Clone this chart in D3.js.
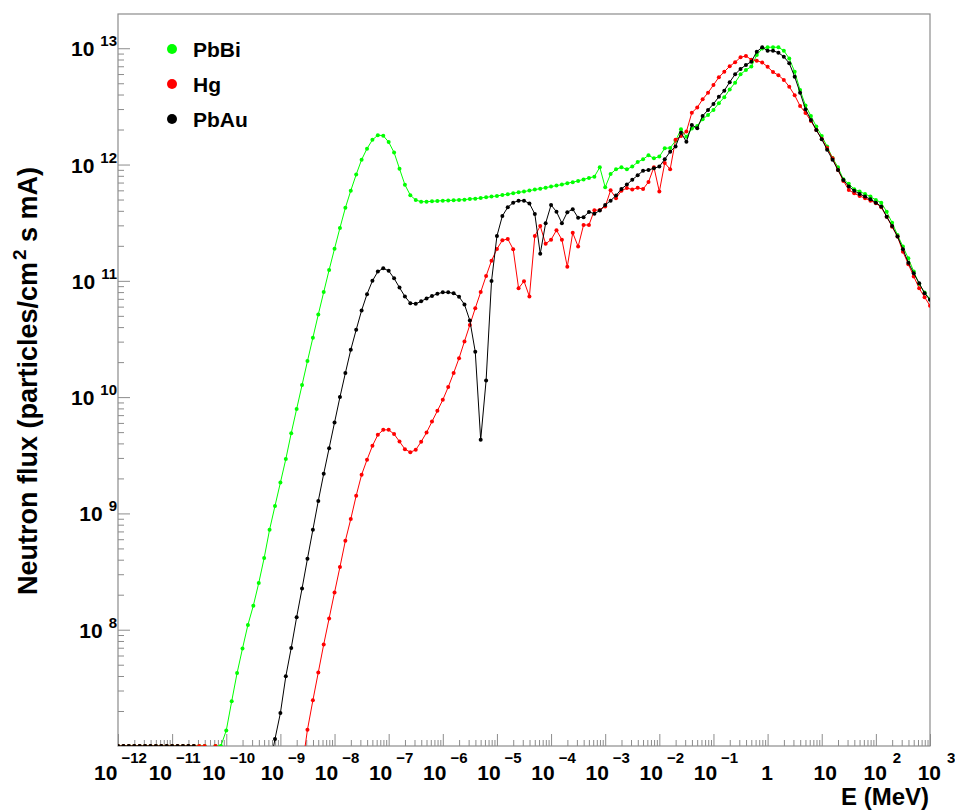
<!DOCTYPE html>
<html>
<head>
<meta charset="utf-8">
<script src="https://cdn.jsdelivr.net/npm/d3@7"></script>
<style>
  body { margin: 0; background: #fff; }
  text { font-family: "Liberation Sans", Arial, sans-serif; font-weight: bold; fill: #000; }
</style>
</head>
<body>
<div id="canvas"></div>
<script>
// energy grid of the spectra: 10 points per decade, 1e-12 .. 1e3 MeV
const energies = d3.range(151).map(i => Math.pow(10, -12 + i / 10));

// neutron flux (particles/cm2 s mA); 0 = empty bin (drawn on the frame), null = below range
const pbbi = [
    0, 0, 0, 0, 0, 0, 0, 0, 0, 0,
    0, 0, 0, 0, 0, 0, 0, null, 0, 0,
    1.36e7, 2.42e7, 4.24e7, 6.9e7, 1.10e8, 1.61e8, 2.52e8, 4.14e8, 7.24e8, 1.16e9,
    1.84e9, 2.93e9, 4.90e9, 7.9e9, 1.27e10, 2.04e10, 3.24e10, 5.13e10, 8.0e10, 1.24e11,
    1.89e11, 2.85e11, 4.24e11, 5.96e11, 8.2e11, 1.10e12, 1.37e12, 1.63e12, 1.79e12, 1.77e12,
    1.56e12, 1.27e12, 9.2e11, 6.7e11, 5.45e11, 4.95e11, 4.79e11, 4.79e11, 4.83e11, 4.86e11,
    4.89e11, 4.91e11, 4.93e11, 4.96e11, 4.99e11, 5.06e11, 5.09e11, 5.16e11, 5.23e11, 5.3e11,
    5.37e11, 5.47e11, 5.55e11, 5.66e11, 5.78e11, 5.85e11, 5.97e11, 6.09e11, 6.2e11, 6.33e11,
    6.46e11, 6.59e11, 6.72e11, 6.92e11, 7.05e11, 7.23e11, 7.45e11, 7.67e11, 7.87e11, 9.47e11,
    6.38e11, 8.3e11, 9.1e11, 9.47e11, 9.1e11, 9.6e11, 1.05e12, 1.11e12, 1.20e12, 1.13e12,
    1.17e12, 1.38e12, 1.39e12, 1.60e12, 2.01e12, 1.73e12, 2.04e12, 2.15e12, 2.45e12, 2.67e12,
    2.95e12, 3.37e12, 3.79e12, 4.42e12, 5.06e12, 5.97e12, 6.5e12, 6.95e12, 8.75e12, 9.95e12,
    1.02e13, 1.02e13, 1.02e13, 9.52e12, 8.17e12, 6.28e12, 4.38e12, 3.22e12, 2.62e12, 2.12e12,
    1.76e12, 1.43e12, 1.14e12, 9.47e11, 7.47e11, 6.82e11, 6.13e11, 5.85e11, 5.59e11, 5.3e11,
    4.96e11, 4.7e11, 3.93e11, 3.16e11, 2.48e11, 1.97e11, 1.56e11, 1.2e11, 9.4e10, 7.93e10,
    6.95e10
];

const hg = [
    0, 0, 0, 0, 0, 0, 0, 0, 0, 0,
    0, 0, 0, 0, 0, 0, 0, null, 0, null,
    null, null, null, null, null, null, null, null, null, null,
    null, null, null, null, 6.5e6, 1.38e7, 2.47e7, 4.29e7, 7.47e7, 1.25e8,
    2.09e8, 3.46e8, 5.82e8, 8.94e8, 1.42e9, 2.15e9, 2.89e9, 3.81e9, 4.74e9, 5.23e9,
    5.23e9, 4.81e9, 4.15e9, 3.57e9, 3.36e9, 3.52e9, 4.13e9, 4.96e9, 6.16e9, 7.62e9,
    9.47e9, 1.22e10, 1.61e10, 2.16e10, 3.01e10, 4.18e10, 5.82e10, 8.0e10, 1.10e11, 1.49e11,
    1.88e11, 2.23e11, 2.29e11, 1.87e11, 8.63e10, 9.93e10, 7.34e10, 2.43e11, 2.96e11, 2.08e11,
    2.26e11, 2.72e11, 2.26e11, 1.32e11, 2.59e11, 1.97e11, 3.02e11, 3.02e11, 4.05e11, 4.07e11,
    4.35e11, 6.0e11, 5.13e11, 5.95e11, 6.28e11, 6.1e11, 6.31e11, 6.15e11, 7.08e11, 9.5e11,
    5.85e11, 1.03e12, 9.1e11, 1.63e12, 1.76e12, 1.92e12, 2.79e12, 3.09e12, 3.64e12, 4.15e12,
    4.83e12, 5.63e12, 6.28e12, 7.0e12, 7.58e12, 8.36e12, 8.58e12, 7.97e12, 7.82e12, 7.55e12,
    6.92e12, 6.24e12, 5.86e12, 5.34e12, 4.67e12, 3.94e12, 3.19e12, 2.78e12, 2.37e12, 1.98e12,
    1.66e12, 1.39e12, 1.13e12, 8.98e11, 7.23e11, 6.04e11, 5.66e11, 5.37e11, 5.13e11, 4.89e11,
    4.65e11, 4.29e11, 3.56e11, 2.92e11, 2.4e11, 1.78e11, 1.39e11, 1.09e11, 8.63e10, 7.24e10,
    6.1e10
];

const pbau = [
    0, 0, 0, 0, 0, 0, 0, 0, 0, 0,
    0, 0, 0, 0, 0, null, null, null, null, null,
    null, null, null, null, null, null, null, null, 6.5e6, 1.15e7,
    1.92e7, 3.97e7, 6.96e7, 1.28e8, 2.26e8, 4.08e8, 7.24e8, 1.28e9, 2.19e9, 3.64e9,
    6.05e9, 1.0e10, 1.61e10, 2.55e10, 3.79e10, 5.56e10, 7.68e10, 1.0e11, 1.2e11, 1.28e11,
    1.22e11, 1.05e11, 8.75e10, 7.34e10, 6.43e10, 6.34e10, 6.66e10, 7.05e10, 7.4e10, 7.74e10,
    7.96e10, 7.96e10, 7.81e10, 7.29e10, 6.27e10, 4.55e10, 2.45e10, 4.29e9, 1.39e10, 9.95e10,
    2.43e11, 3.61e11, 4.29e11, 4.7e11, 4.89e11, 4.89e11, 4.63e11, 3.76e11, 1.71e11, 3.13e11,
    4.49e11, 3.93e11, 3.13e11, 3.89e11, 4.13e11, 3.49e11, 3.53e11, 3.91e11, 3.78e11, 4.02e11,
    4.49e11, 4.89e11, 5.42e11, 6.16e11, 6.72e11, 7.4e11, 8.08e11, 8.85e11, 8.98e11, 9.28e11,
    9.6e11, 1.11e12, 1.29e12, 1.43e12, 1.88e12, 1.57e12, 2.19e12, 2.05e12, 2.62e12, 2.95e12,
    3.32e12, 3.83e12, 4.32e12, 5.11e12, 5.97e12, 6.63e12, 7.18e12, 7.67e12, 9.34e12, 1.02e13,
    9.52e12, 9.52e12, 9.16e12, 8.46e12, 7.43e12, 5.7e12, 4.15e12, 2.99e12, 2.42e12, 1.98e12,
    1.65e12, 1.34e12, 1.10e12, 8.98e11, 7.37e11, 6.46e11, 5.96e11, 5.59e11, 5.3e11, 5.03e11,
    4.7e11, 4.35e11, 3.56e11, 2.96e11, 2.4e11, 1.87e11, 1.43e11, 1.16e11, 9.54e10, 7.83e10,
    6.86e10
];

const seriesNames = ["PbBi", "Hg", "PbAu"];
const seriesColors = ["#00ff00", "#ff0000", "#000000"];
const seriesValues = [pbbi, hg, pbau];

// tick labels (powers of ten)
const xTickExponents = [-12, -11, -10, -9, -8, -7, -6, -5, -4, -3, -2, -1, 0, 1, 2, 3];
const yTickExponents = [8, 9, 10, 11, 12, 13];

const width = 955;
const height = 810;
const frame = { left: 118, right: 930, top: 14, bottom: 746 };
const axisColor = "#8c8c8c";

const svg = d3.select("#canvas")
    .append("svg")
    .attr("width", width)
    .attr("height", height)
    .style("background-color", "#fff");

const x = d3.scaleLog()
    .domain([1e-12, 1e3])
    .range([frame.left, frame.right]);

const y = d3.scaleLog()
    .domain([1e7, 1.97e13])
    .range([frame.bottom, frame.top]);

// minor ticks 2..9 inside every decade
function minorTicks(scale) {
    const [lo, hi] = scale.domain();
    const out = [];
    for (let d = Math.floor(Math.log10(lo)); d <= Math.ceil(Math.log10(hi)); d++) {
        for (let m = 2; m <= 9; m++) {
            const v = m * Math.pow(10, d);
            if (v > lo && v < hi) out.push(v);
        }
    }
    return out;
}

// frame
svg.append("rect")
    .attr("x", frame.left)
    .attr("y", frame.top)
    .attr("width", frame.right - frame.left)
    .attr("height", frame.bottom - frame.top)
    .attr("fill", "none")
    .attr("stroke", axisColor)
    .attr("stroke-width", 1.2);

// x axis: ticks point up into the frame
const xAxisG = svg.append("g").attr("transform", `translate(0,${frame.bottom})`);
xAxisG.append("g")
    .call(d3.axisBottom(x).tickValues(minorTicks(x)).tickSize(-6).tickSizeOuter(0).tickFormat(""));
xAxisG.append("g")
    .attr("class", "xmajor")
    .call(d3.axisBottom(x).tickValues(xTickExponents.map(e => Math.pow(10, e)))
        .tickSize(-12).tickSizeOuter(0).tickFormat(""));
xAxisG.selectAll(".domain").remove();
xAxisG.selectAll(".tick line").attr("stroke", axisColor);

xAxisG.select(".xmajor").selectAll(".tick").each(function(d, i) {
    const e = xTickExponents[i];
    const t = d3.select(this).select("text")
        .attr("y", 34)
        .attr("dy", null)
        .attr("text-anchor", "middle")
        .attr("font-size", "21px")
        .text(null);
    if (e === 0) {
        t.attr("dx", -1).text("1");
    } else if (e === 1) {
        t.attr("dx", 3).text("10");
    } else {
        t.attr("dx", e > 0 ? 6 : 2);
        t.append("tspan").text("10");
        t.append("tspan")
            .attr("dx", e > 0 ? 6 : 4)
            .attr("dy", -17)
            .attr("font-size", "15px")
            .text(e < 0 ? "\u2212" + (-e) : e);
    }
});

// y axis: ticks point right into the frame
const yAxisG = svg.append("g").attr("transform", `translate(${frame.left},0)`);
yAxisG.append("g")
    .call(d3.axisLeft(y).tickValues(minorTicks(y)).tickSize(-6).tickSizeOuter(0).tickFormat(""));
yAxisG.append("g")
    .attr("class", "ymajor")
    .call(d3.axisLeft(y).tickValues(yTickExponents.map(e => Math.pow(10, e)))
        .tickSize(-12).tickSizeOuter(0).tickPadding(1).tickFormat(""));
yAxisG.selectAll(".domain").remove();
yAxisG.selectAll(".tick line").attr("stroke", axisColor);

yAxisG.select(".ymajor").selectAll(".tick").each(function(d, i) {
    const e = yTickExponents[i];
    const t = d3.select(this).select("text")
        .attr("x", -1)
        .attr("dy", "7.5")
        .attr("text-anchor", "end")
        .attr("font-size", "21px")
        .text(null);
    t.append("tspan").text("10");
    t.append("tspan")
        .attr("dx", 6)
        .attr("dy", -10)
        .attr("font-size", "15px")
        .text(e);
});

// axis titles
svg.append("text")
    .attr("x", frame.right - 1)
    .attr("y", 805)
    .attr("text-anchor", "end")
    .attr("font-size", "24px")
    .text("E (MeV)");

const yTitle = svg.append("text")
    .attr("transform", `translate(37,381) rotate(-90)`)
    .attr("text-anchor", "middle")
    .attr("font-size", "27px");
yTitle.append("tspan").text("Neutron flux (particles/cm");
yTitle.append("tspan").attr("dy", -11).attr("dx", 2).attr("font-size", "19px").text("2");
yTitle.append("tspan").attr("dy", 11).text(" s mA)");

// data
svg.append("clipPath")
    .attr("id", "plot-clip")
    .append("rect")
    .attr("x", frame.left)
    .attr("y", frame.top)
    .attr("width", frame.right - frame.left)
    .attr("height", frame.bottom - frame.top);

const plot = svg.append("g").attr("clip-path", "url(#plot-clip)");

// empty bins sit on the lower edge of the frame
const yPos = v => v === 0 ? y.range()[0] : y(v);

const line = d3.line()
    .defined(d => d.v !== null)
    .x(d => x(d.e))
    .y(d => yPos(d.v));

seriesValues.forEach((vals, si) => {
    const pts = vals.map((v, i) => ({ e: energies[i], v: v }));
    const g = plot.append("g");
    g.append("path")
        .datum(pts)
        .attr("d", line)
        .attr("fill", "none")
        .attr("stroke", seriesColors[si])
        .attr("stroke-width", 1);
    g.selectAll("circle")
        .data(pts.filter(d => d.v !== null))
        .join("circle")
        .attr("cx", d => x(d.e))
        .attr("cy", d => yPos(d.v))
        .attr("r", 2)
        .attr("fill", seriesColors[si]);
});

// legend
const legend = svg.append("g").attr("transform", "translate(172,49)");
seriesNames.forEach((name, i) => {
    const row = legend.append("g").attr("transform", `translate(0,${i * 35})`);
    row.append("circle").attr("r", 5).attr("fill", seriesColors[i]);
    row.append("text")
        .attr("x", 21)
        .attr("y", 7.5)
        .attr("font-size", "21px")
        .text(name);
});
</script>
</body>
</html>
